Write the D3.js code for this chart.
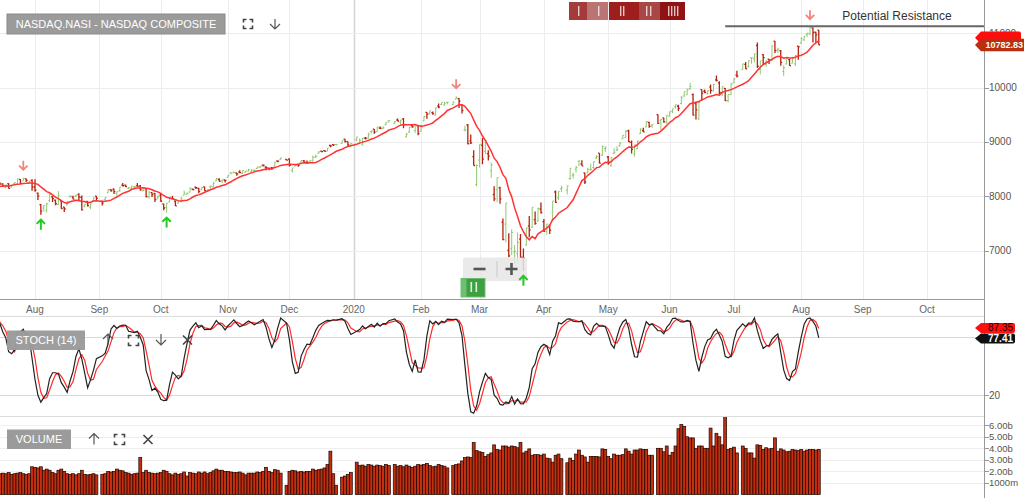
<!DOCTYPE html>
<html><head><meta charset="utf-8">
<script src="https://cdn.jsdelivr.net/npm/d3@7"></script>
<style>
html,body{margin:0;padding:0;background:#fff;overflow:hidden;}
svg{display:block;font-family:"Liberation Sans",Arial,sans-serif;}
</style>
</head><body>
<svg id="c" width="1024" height="498"></svg>
<script>
// ---------------- DATA ----------------
const startDate = "2019-06-17", endDate = "2020-08-11";
const holidays = ["2019-07-04","2019-09-02","2019-11-28","2019-12-25","2020-01-01","2020-01-20","2020-02-17","2020-04-10","2020-05-25","2020-07-03"];

const opens = [
 7829,7899,7960,8067,8025,8034,8011,7938,7937,7988,
 8149,8095,8131,8121,8110,8068,8196,8221,8207,8265,8246,8229,8165,8234,8172,8230,8221,8310,8283,8322,8235,8292,
 8170,8060,7846,7784,7745,7917,7992,7928,7847,7917,7800,7840,7989,7990,8000,8037,7982,7819,7907,7798,7920,8002,
 7907,7937,8068,8121,8134,8052,8101,8207,8205,8142,8152,8175,8193,8190,8100,8141,7995,8068,8054,7966,
 8021,7859,7795,7896,7960,7910,7875,7904,8022,8038,8075,8127,8166,8145,8120,8173,8089,8170,8170,8285,8310,8282,8300,
 8350,8429,8432,8428,8445,8420,8442,8465,8450,8472,8512,8534,8574,8539,8516,8527,8557,8649,8674,8677,
 8686,8475,8556,8588,8624,8650,8623,8630,8651,8718,8789,8831,8838,8831,8936,8950,8952,8970,9050,9004,8918,
 9039,8977,8943,9070,9069,9191,9234,9187,9254,9243,9316,9386,9340,9403,9359,9425,9092,9181,9301,9206,9296,
 9193,9387,9542,9524,9539,9489,9658,9686,9680,9727,9684,9786,9794,9680,9220,9311,9018,8730,8215,
 8667,8937,8829,8786,8470,8033,8120,8157,7523,7490,7008,7036,6975,6950,7212,6879,7105,7458,7431,7571,7548,7765,
 7533,7359,7444,7564,8079,7974,8137,8112,8327,8388,8498,8645,8594,8431,8434,8487,8529,8704,8792,8753,8876,
 8722,8564,8790,8847,8930,9060,9081,9205,8993,8779,8877,9156,9206,9274,9360,9297,9500,9398,9440,9362,
 9472,9566,9645,9655,9704,9844,9867,9980,9870,9706,9425,9960,9931,9885,10013,9937,10142,10085,9899,9985,9759,9869,
 10087,10229,10330,10425,10380,10546,10527,10772,10330,10606,10423,10520,10519,10852,10679,10678,10295,10434,10511,10448,10434,10761,
 10815,10876,10974,10984,11097,11016,11053
];
const highs = [
 7880,7990,7994,8073,8063,8043,8012,7966,7988,8016,
 8150,8111,8170,8167,8127,8146,8209,8226,8245,8275,8260,8240,8214,8240,8214,8252,8322,8316,8340,8326,8289,8312,
 8312,8070,7858,7839,7880,8040,8000,7940,8094,7926,7808,7916,8022,8010,8023,8058,8014,7857,7912,7869,7979,8006,
 7924,7979,8133,8130,8137,8089,8170,8243,8215,8172,8186,8189,8243,8207,8132,8150,8093,8076,8060,8016,
 8054,7861,7874,7985,8010,7925,7917,7988,8109,8072,8164,8145,8177,8159,8167,8182,8124,8197,8259,8336,8330,8312,8304,
 8387,8437,8457,8430,8480,8476,8465,8505,8498,8493,8541,8555,8585,8554,8529,8530,8632,8650,8706,8683,
 8689,8522,8584,8590,8664,8669,8658,8656,8749,8768,8831,8838,8848,8887,8946,8956,8957,9022,9053,9007,8976,
 9093,9066,9072,9092,9169,9204,9236,9274,9285,9294,9357,9390,9383,9431,9404,9439,9167,9278,9322,9301,9304,
 9312,9472,9547,9573,9557,9629,9705,9726,9736,9732,9740,9838,9807,9682,9296,9328,9135,8847,8587,
 8953,9071,9019,8847,8620,8186,8344,8176,7590,7875,7323,7397,7103,7334,7309,7040,7419,7637,7798,7721,7794,7887,
 7581,7494,7482,7913,8108,8091,8197,8197,8520,8433,8558,8654,8661,8435,8523,8601,8637,8756,8792,8932,8919,
 8743,8713,8885,8919,8997,9123,9219,9225,9025,8945,9017,9249,9260,9378,9371,9326,9502,9414,9444,9493,
 9560,9608,9686,9683,9845,9925,9983,10086,9890,9743,9751,9965,9964,9944,10053,10066,10222,10117,10019,9993,9875,10085,
 10176,10310,10434,10467,10493,10552,10620,10825,10492,10612,10504,10525,10768,10853,10733,10688,10408,10538,10522,10563,10600,10761,
 10923,10945,11002,11109,11101,11023,11055
];
const lows = [
 7826,7890,7930,8003,8020,7995,7871,7897,7935,7967,
 8048,8059,8130,8092,8079,8065,8155,8166,8197,8236,8215,8183,8148,8143,8162,8207,8219,8225,8282,8262,8230,8102,
 8082,7934,7662,7722,7701,7895,7893,7837,7844,7770,7710,7837,7980,7947,7989,7934,7740,7796,7812,7765,7912,7923,
 7830,7915,8066,8083,8042,7993,8083,8181,8170,8136,8141,8122,8181,8102,8094,7979,7956,7986,7895,7956,
 7901,7743,7700,7893,7948,7823,7867,7888,8022,8034,8072,8112,8135,8058,8112,8100,8078,8141,8166,8284,8270,8240,8253,
 8340,8403,8426,8376,8422,8409,8437,8456,8448,8456,8503,8522,8548,8473,8479,8484,8557,8624,8673,8659,
 8546,8435,8550,8543,8621,8618,8600,8616,8637,8701,8788,8811,8824,8829,8903,8924,8934,8969,8987,8914,8912,
 9011,8976,8943,9043,9059,9155,9152,9183,9235,9237,9302,9358,9330,9379,9315,9251,9088,9165,9258,9166,9121,
 9190,9386,9427,9503,9499,9488,9619,9677,9668,9691,9680,9782,9625,9521,9193,8958,8962,8565,8184,
 8529,8591,8774,8657,8339,7907,7890,7865,7194,7151,6880,6916,6754,6795,6872,6631,7095,7247,7420,7477,7529,7682,
 7345,7292,7309,7560,7880,7930,8077,8035,8300,8326,8435,8552,8560,8224,8426,8475,8505,8687,8605,8746,8816,
 8580,8545,8783,8838,8911,9049,9075,8999,8787,8727,8866,9145,9181,9272,9259,9257,9329,9215,9352,9333,
 9468,9527,9613,9570,9691,9826,9862,9957,9486,9413,9403,9753,9893,9869,9885,9932,10111,9866,9842,9750,9729,9864,
 10077,10183,10326,10338,10369,10434,10461,10360,10239,10415,10380,10431,10481,10632,10639,10402,10209,10425,10400,10445,10394,10511,
 10800,10854,10929,10967,10827,10824,10780
];
const closes = [
 7845,7954,7987,8051,8032,8006,7885,7910,7968,8006,
 8091,8109,8170,8162,8098,8142,8203,8196,8244,8258,8223,8185,8207,8146,8204,8251,8322,8239,8330,8293,8274,8175,
 8111,8004,7726,7833,7863,8039,7959,7863,8016,7774,7767,7896,8003,7949,8020,7991,7752,7854,7827,7857,7973,7963,
 7874,7977,8117,8103,8087,8084,8170,8194,8177,8154,8186,8177,8183,8118,8112,7994,8077,8031,7940,7999,
 7909,7785,7872,7982,7956,7824,7904,7951,8057,8049,8149,8124,8157,8090,8163,8104,8120,8186,8243,8326,8277,8304,8292,
 8386,8433,8435,8411,8435,8475,8464,8486,8482,8479,8541,8550,8571,8527,8506,8520,8632,8648,8705,8665,
 8568,8521,8567,8571,8657,8622,8616,8654,8717,8735,8814,8823,8828,8887,8925,8946,8953,9022,9007,8946,8973,
 9092,9021,9071,9069,9129,9203,9179,9274,9251,9259,9357,9389,9371,9384,9402,9315,9139,9270,9275,9299,9151,
 9273,9468,9509,9572,9521,9628,9639,9726,9712,9731,9733,9817,9751,9577,9221,8966,8981,8566,8567,
 8952,8684,9018,8739,8576,7951,8344,7952,7202,7875,6905,7335,6990,7151,6880,6861,7418,7384,7798,7502,7774,7700,
 7361,7487,7373,7913,7887,8091,8154,8192,8516,8393,8532,8650,8561,8263,8495,8495,8635,8730,8608,8915,8890,
 8605,8711,8809,8854,8980,9121,9192,9003,8863,8944,9015,9235,9185,9376,9285,9325,9340,9412,9369,9490,
 9552,9608,9683,9616,9814,9925,9954,10020,9493,9589,9726,9896,9911,9943,9946,10056,10131,9909,10017,9757,9874,10059,
 10155,10208,10434,10344,10493,10548,10617,10391,10489,10550,10474,10503,10767,10680,10706,10461,10363,10536,10402,10543,10588,10745,
 10903,10941,10998,11108,11011,10968,10782.83
];
// volume, billions
const volumes = [
 1.8,1.9,1.85,2.0,2.6,1.8,2.0,1.9,1.85,2.1,
 1.9,1.8,1.3,1.4,1.7,1.75,1.8,1.75,1.7,1.75,1.8,1.85,1.8,1.9,1.75,1.8,1.85,1.9,1.8,1.75,1.8,2.4,
 2.35,2.3,2.4,2.1,2.2,2.1,1.9,1.8,2.1,2.2,2.0,1.8,1.75,1.8,1.7,1.8,2.1,1.75,1.7,1.75,1.8,1.7,
 1.75,1.8,2.0,1.95,2.0,2.2,2.1,2.05,1.9,1.85,1.75,1.8,1.85,3.2,1.9,2.1,1.9,1.85,1.8,1.85,
 1.9,2.1,2.0,1.8,1.7,1.85,1.75,1.8,1.95,1.6,1.9,1.85,1.8,1.95,1.85,1.95,1.8,1.9,2.05,2.2,2.1,2.1,2.0,
 2.0,1.95,1.9,1.9,1.95,1.85,1.7,1.85,1.85,1.85,1.95,1.9,2.0,2.35,2.0,1.9,2.15,2.1,1.85,0.8,
 2.0,2.1,2.05,1.95,2.0,1.95,2.0,2.0,2.2,2.1,2.15,2.2,2.3,2.6,3.75,1.8,0.8,1.5,1.6,1.75,1.9,
 2.8,2.5,2.55,2.45,2.6,2.55,2.45,2.55,2.5,2.45,2.6,2.5,2.6,2.45,2.5,2.4,2.55,2.45,2.35,2.45,2.6,
 2.55,2.6,2.7,2.5,2.4,2.45,2.6,2.5,2.45,2.3,2.5,2.6,2.65,2.9,3.2,3.25,3.2,4.5,3.8,
 3.7,3.65,3.3,3.45,3.6,4.3,3.9,3.85,4.2,4.2,4.1,4.2,4.15,4.05,4.5,3.6,3.75,3.95,3.4,3.45,3.45,3.4,
 3.5,3.15,3.1,2.8,3.4,3.5,3.1,2.75,3.15,2.95,3.5,3.85,3.4,3.25,2.8,3.3,3.3,3.3,3.25,3.95,3.9,
 3.3,3.1,3.5,3.4,3.4,3.45,3.95,3.75,3.5,3.85,3.85,3.95,3.9,3.9,3.4,3.4,4.0,4.0,3.7,4.2,
 3.4,3.65,4.2,5.7,6.05,5.9,5.0,4.9,4.9,4.0,4.2,4.2,4.0,4.0,5.75,4.2,5.3,5.0,4.3,6.85,3.9,4.0,
 4.1,3.6,4.2,4.0,3.6,3.6,3.15,4.3,4.25,3.9,4.05,3.95,4.0,4.9,3.75,3.95,3.85,3.7,3.75,3.9,3.85,3.8,
 3.9,3.75,3.85,3.9,3.9,3.85,3.9
];

const monthLabels = ["Aug","Sep","Oct","Nov","Dec","2020","Feb","Mar","Apr","May","Jun","Jul","Aug","Sep","Oct"];
const monthStarts = ["2019-08-01","2019-09-01","2019-10-01","2019-11-01","2019-12-01","2020-01-01","2020-02-01","2020-03-01","2020-04-01","2020-05-01","2020-06-01","2020-07-01","2020-08-01","2020-09-01","2020-10-01"];
const priceTicks = [7000,8000,9000,10000,11000];
const stochLevels = [20,80];
const stochTickLabels = ["20"];
const volTicks = [1,2,3,4,5,6];
const volTickLabels = ["1000m","2.00b","3.00b","4.00b","5.00b","6.00b"];
const peakDates = ["2019-07-26","2020-02-19","2020-08-06"];
const troughDates = ["2019-08-05","2019-10-03","2020-03-23"];
const resistanceLevel = 11125, resistanceFrom = "2020-06-26", resistanceLabel = "Potential Resistance";
const lastStochD = 87.35, lastStochK = 77.41;
const titleText = "NASDAQ.NASI - NASDAQ COMPOSITE";

// ---------------- HELPERS ----------------
const DAY = 864e5;
function parse(s){const [y,m,d]=s.split("-").map(Number);return new Date(Date.UTC(y,m-1,d));}
function iso(d){return d.toISOString().slice(0,10);}
const refDate = parse("2019-08-01");
function isWeekday(d){const w=d.getUTCDay();return w!==0&&w!==6;}
function slot(d){
  const days=Math.round((d-refDate)/DAY); let n=0;
  if(days>=0){for(let i=0;i<days;i++){if(isWeekday(new Date(refDate.getTime()+i*DAY)))n++;}}
  else{for(let i=-1;i>=days;i--){if(isWeekday(new Date(refDate.getTime()+i*DAY)))n--;}}
  return n;
}
const hol = new Set(holidays);
const dates=[];
for(let t=parse(startDate).getTime(); t<=parse(endDate).getTime(); t+=DAY){
  const d=new Date(t); if(isWeekday(d)&&!hol.has(iso(d))) dates.push(d);
}
const N=Math.min(dates.length,opens.length,highs.length,lows.length,closes.length,volumes.length);
const rows=d3.range(N).map(i=>({date:dates[i],key:iso(dates[i]),s:slot(dates[i]),o:opens[i],h:highs[i],l:lows[i],c:closes[i],v:volumes[i]}));
const byKey=new Map(rows.map(r=>[r.key,r]));

// indicators: 10-day SMA, slow stochastic (14,3,3)
rows.forEach((r,i)=>{
  r.ma = i>=9 ? d3.mean(rows.slice(i-9,i+1),d=>d.c) : null;
  if(i>=13){const w=rows.slice(i-13,i+1);const hh=d3.max(w,d=>d.h),ll=d3.min(w,d=>d.l);r.fk=100*(r.c-ll)/(hh-ll);} else r.fk=null;
});
rows.forEach((r,i)=>{r.sk=(i>=2&&rows[i-2].fk!=null)?d3.mean([rows[i-2].fk,rows[i-1].fk,r.fk]):null;});
rows.forEach((r,i)=>{r.sd=(i>=2&&rows[i-2].sk!=null)?d3.mean([rows[i-2].sk,rows[i-1].sk,r.sk]):null;});

// ---------------- SCALES ----------------
const svg=d3.select("#c");
const R=984;
const x=d3.scaleLinear().domain([0,305]).range([35,927]);
const yP=d3.scaleLinear().domain([7000,11000]).range([250.7,33.1]);
const yS=d3.scaleLinear().domain([20,80]).range([395,337]);
const yV=d3.scaleLinear().domain([0,6]).range([494.5,425.2]);

const defs=svg.append("defs");
function clip(id,x0,y0,w,h){defs.append("clipPath").attr("id",id).append("rect").attr("x",x0).attr("y",y0).attr("width",w).attr("height",h);}
clip("cp",0,0,R,299); clip("cs",0,316,R,100); clip("cv",0,417,R,81);

const monthTicks=monthStarts.map((s,i)=>{let d=parse(s);while(!isWeekday(d))d=new Date(d.getTime()+DAY);return {x:x(slot(d)),label:monthLabels[i],year:monthLabels[i]==="2020"};});

// ---------------- MAIN PANEL ----------------
const grid=svg.append("g");
grid.selectAll(".vg").data(monthTicks).join("line")
  .attr("x1",d=>Math.round(d.x)+0.5).attr("x2",d=>Math.round(d.x)+0.5).attr("y1",0).attr("y2",299)
  .attr("stroke",d=>d.year?"#d4d4d4":"#ececec").attr("stroke-width",d=>d.year?1.5:1);
grid.selectAll(".hg").data(priceTicks).join("line")
  .attr("x1",0).attr("x2",R).attr("y1",d=>Math.round(yP(d))+0.5).attr("y2",d=>Math.round(yP(d))+0.5)
  .attr("stroke","#ececec");

svg.append("line").attr("x1",0).attr("x2",R).attr("y1",299.5).attr("y2",299.5).attr("stroke","#999");
svg.append("line").attr("x1",R+0.5).attr("x2",R+0.5).attr("y1",0).attr("y2",498).attr("stroke","#999");
svg.selectAll(".pt").data(priceTicks).join("line").attr("x1",R).attr("x2",R+5)
  .attr("y1",d=>Math.round(yP(d))+0.5).attr("y2",d=>Math.round(yP(d))+0.5).attr("stroke","#999");
svg.selectAll(".pl").data(priceTicks).join("text").attr("x",989).attr("y",d=>yP(d)+3.5)
  .attr("font-size",10).attr("fill","#555").text(d=>d);
svg.selectAll(".ml").data(monthTicks).join("text").attr("x",d=>d.x).attr("y",313)
  .attr("text-anchor","middle").attr("font-size",10).attr("fill","#666").text(d=>d.label);

svg.append("rect").attr("x",7).attr("y",14).attr("width",218).attr("height",20).attr("fill","#9b9b9b").attr("stroke","#8a8a8a");
svg.append("text").attr("x",116).attr("y",28).attr("text-anchor","middle").attr("font-size",11).attr("fill","#fff").text(titleText);

function bracket(x0,y0,s,col){svg.append("path").attr("d",`M${x0},${y0+3}V${y0}H${x0+3}M${x0+s-3},${y0}H${x0+s}V${y0+3}M${x0+s},${y0+s-3}V${y0+s}H${x0+s-3}M${x0+3},${y0+s}H${x0}V${y0+s-3}`).attr("fill","none").attr("stroke",col||"#444").attr("stroke-width",1.6);}
function arrowDown(cx,y0,h,col,w,hw){svg.append("path").attr("d",`M${cx},${y0}V${y0+h}M${cx-hw},${y0+h-hw}L${cx},${y0+h}L${cx+hw},${y0+h-hw}`).attr("fill","none").attr("stroke",col).attr("stroke-width",w);}
function arrowUp(cx,y0,h,col,w,hw){svg.append("path").attr("d",`M${cx},${y0+h}V${y0}M${cx-hw},${y0+hw}L${cx},${y0}L${cx+hw},${y0+hw}`).attr("fill","none").attr("stroke",col).attr("stroke-width",w);}
function xIcon(cx,cy,r){svg.append("path").attr("d",`M${cx-r},${cy-r}L${cx+r},${cy+r}M${cx+r},${cy-r}L${cx-r},${cy+r}`).attr("stroke","#444").attr("stroke-width",1.6);}
bracket(243.5,19.5,9);
arrowDown(275,19,10,"#555",1.2,5);

// top navigator strip
const nav=svg.append("g");
[[569,18,"#a53a3a"],[587,21,"#bb7474"],[609,30,"#9e1e1e"],[639,21,"#a94646"],[660,25,"#901212"]].forEach(s=>{
  nav.append("rect").attr("x",s[0]).attr("y",2).attr("width",s[1]).attr("height",18).attr("fill",s[2]);});
[578,598,620,623,646,650,668,671,674,677].forEach(px=>nav.append("rect").attr("x",px).attr("y",6).attr("width",1.4).attr("height",10).attr("fill","#fff").attr("opacity",0.75));

// price bars
const pg=svg.append("g").attr("clip-path","url(#cp)");
pg.selectAll(".bar").data(rows).join("path")
  .attr("d",d=>{const cx=x(d.s);return `M${cx},${yP(d.h)}V${yP(d.l)}M${cx-1.4},${yP(d.o)}H${cx}M${cx},${yP(d.c)}H${cx+1.4}`;})
  .attr("fill","none")
  .attr("stroke",d=>d.c>=d.o?"#7fbf5a":"#b4220e")
  .attr("stroke-opacity",d=>d.c>=d.o?0.85:1)
  .attr("stroke-width",d=>d.c>=d.o?1:1.3);
pg.append("path").datum(rows.filter(r=>r.ma!=null))
  .attr("d",d3.line().x(d=>x(d.s)).y(d=>yP(d.ma)))
  .attr("fill","none").attr("stroke","#ff3333").attr("stroke-width",1.5);

// zoom control + green marker
svg.append("rect").attr("x",463).attr("y",257.5).attr("width",64).attr("height",23.5).attr("rx",2).attr("fill","#e6e6e6").attr("opacity",0.85);
svg.append("line").attr("x1",473.5).attr("x2",485.5).attr("y1",269).attr("y2",269).attr("stroke","#555").attr("stroke-width",2.6);
svg.append("line").attr("x1",497).attr("x2",497).attr("y1",261).attr("y2",277).attr("stroke","#c8c8c8");
svg.append("path").attr("d","M505.5,269H517.5M511.5,263V275").attr("stroke","#555").attr("stroke-width",2.6);
svg.append("rect").attr("x",460.5).attr("y",278).attr("width",25).attr("height",19.5).attr("fill","#4cae4f").attr("opacity",0.8);
svg.append("rect").attr("x",466.5).attr("y",279).attr("width",18).attr("height",17.5).attr("fill","#2f9a33").attr("opacity",0.8);
[470.5,475.5].forEach(px=>svg.append("rect").attr("x",px).attr("y",282).attr("width",1.6).attr("height",10).attr("fill","#fff").attr("opacity",0.85));

// signal arrows
peakDates.forEach(k=>{const r=byKey.get(k);if(!r)return;arrowDown(x(r.s),yP(r.h)-17,9,"#f2837c",1.8,4.2);});
troughDates.forEach(k=>{const r=byKey.get(k);if(!r)return;arrowUp(x(r.s),yP(r.l)+5,10,"#26c926",2,4.2);});

// resistance
const rs=byKey.get(resistanceFrom);
svg.append("line").attr("x1",x(rs.s)).attr("x2",R).attr("y1",yP(resistanceLevel)).attr("y2",yP(resistanceLevel)).attr("stroke","#666").attr("stroke-width",2);
svg.append("text").attr("x",897).attr("y",19.5).attr("text-anchor","middle").attr("font-size",12).attr("fill","#333").text(resistanceLabel);

// value tags
const last=rows[N-1];
function tag(yc,w,h,fill,txt,tcol,bold,fs,tx){
  const x0=975;
  svg.append("path").attr("d",`M${x0},${yc}L${x0+6},${yc-h/2}H${x0+w-2}Q${x0+w},${yc-h/2} ${x0+w},${yc-h/2+2}V${yc+h/2-2}Q${x0+w},${yc+h/2} ${x0+w-2},${yc+h/2}H${x0+6}Z`).attr("fill",fill);
  if(txt)svg.append("text").attr("x",tx||988).attr("y",yc+3.4).attr("font-size",fs||10).attr("font-weight",bold?"bold":"normal").attr("fill",tcol).text(txt);
}
tag(yP(last.ma)-3,46,12.5,"#ff0d0d",null);
tag(yP(last.c),56,12.5,"#b8300e",d3.format(".2f")(last.c),"#fff",true,9,985.5);

// ---------------- STOCH PANEL ----------------
svg.selectAll(".sb").data([316,416]).join("line").attr("x1",0).attr("x2",R).attr("y1",d=>d+0.5).attr("y2",d=>d+0.5).attr("stroke","#dcdcdc");
svg.selectAll(".sl").data(stochLevels).join("line").attr("x1",0).attr("x2",R).attr("y1",d=>Math.round(yS(d))+0.5).attr("y2",d=>Math.round(yS(d))+0.5).attr("stroke","#d8d8d8");
svg.selectAll(".st").data(stochLevels).join("line").attr("x1",R).attr("x2",R+5).attr("y1",d=>Math.round(yS(d))+0.5).attr("y2",d=>Math.round(yS(d))+0.5).attr("stroke","#999");
svg.selectAll(".stl").data(stochTickLabels).join("text").attr("x",989).attr("y",d=>yS(+d)+3.5).attr("font-size",10).attr("fill","#555").text(d=>d);
const sg=svg.append("g").attr("clip-path","url(#cs)");
sg.append("path").datum(rows.filter(r=>r.sd!=null)).attr("d",d3.line().x(d=>x(d.s)).y(d=>yS(d.sd)))
  .attr("fill","none").attr("stroke","#ff2a2a").attr("stroke-width",1.2);
sg.append("path").datum(rows.filter(r=>r.sk!=null)).attr("d",d3.line().x(d=>x(d.s)).y(d=>yS(d.sk)))
  .attr("fill","none").attr("stroke","#222").attr("stroke-width",1.2);
svg.append("rect").attr("x",7).attr("y",330.5).attr("width",78).attr("height",19.5).attr("fill","#9b9b9b").attr("opacity",0.97);
svg.append("text").attr("x",46).attr("y",344).attr("text-anchor","middle").attr("font-size",11).attr("fill","#fff").text("STOCH (14)");
arrowUp(108,334,11,"#555",1.2,5);
bracket(128.5,335.5,10);
arrowDown(161,334,11,"#555",1.2,5);
xIcon(187.5,340,4.5);
tag(yS(lastStochD)-2,40,10,"#ff1010",lastStochD.toFixed(2),"#2a0000",false,10);
tag(yS(lastStochK)-1,40,10,"#111",lastStochK.toFixed(2),"#fff",true,10);

// ---------------- VOLUME PANEL ----------------
svg.selectAll(".vgl").data(volTicks).join("line").attr("x1",0).attr("x2",R).attr("y1",d=>Math.round(yV(d))+0.5).attr("y2",d=>Math.round(yV(d))+0.5).attr("stroke","#efefef");
svg.selectAll(".vtk").data(volTicks).join("line").attr("x1",R).attr("x2",R+5).attr("y1",d=>Math.round(yV(d))+0.5).attr("y2",d=>Math.round(yV(d))+0.5).attr("stroke","#999");
svg.selectAll(".vtl").data(volTicks).join("text").attr("x",989).attr("y",d=>yV(d)+3.3).attr("font-size",9.5).attr("fill","#555").text((d,i)=>volTickLabels[i]);
const vg=svg.append("g").attr("clip-path","url(#cv)");
const bw=2.924;
vg.selectAll("rect").data(rows).join("rect")
  .attr("x",d=>x(d.s)-bw/2).attr("width",bw)
  .attr("y",d=>yV(d.v)).attr("height",d=>yV(0)-yV(d.v))
  .attr("fill","#c4300f").attr("stroke","#1a0500").attr("stroke-width",0.7);
svg.append("rect").attr("x",7).attr("y",429.5).attr("width",64).attr("height",19.5).attr("fill","#9b9b9b");
svg.append("text").attr("x",39).attr("y",443).attr("text-anchor","middle").attr("font-size",11).attr("fill","#fff").text("VOLUME");
arrowUp(94,433.5,11,"#555",1.2,5);
bracket(114.5,434.5,10);
xIcon(148,439.5,4.5);
</script>
</body></html>
